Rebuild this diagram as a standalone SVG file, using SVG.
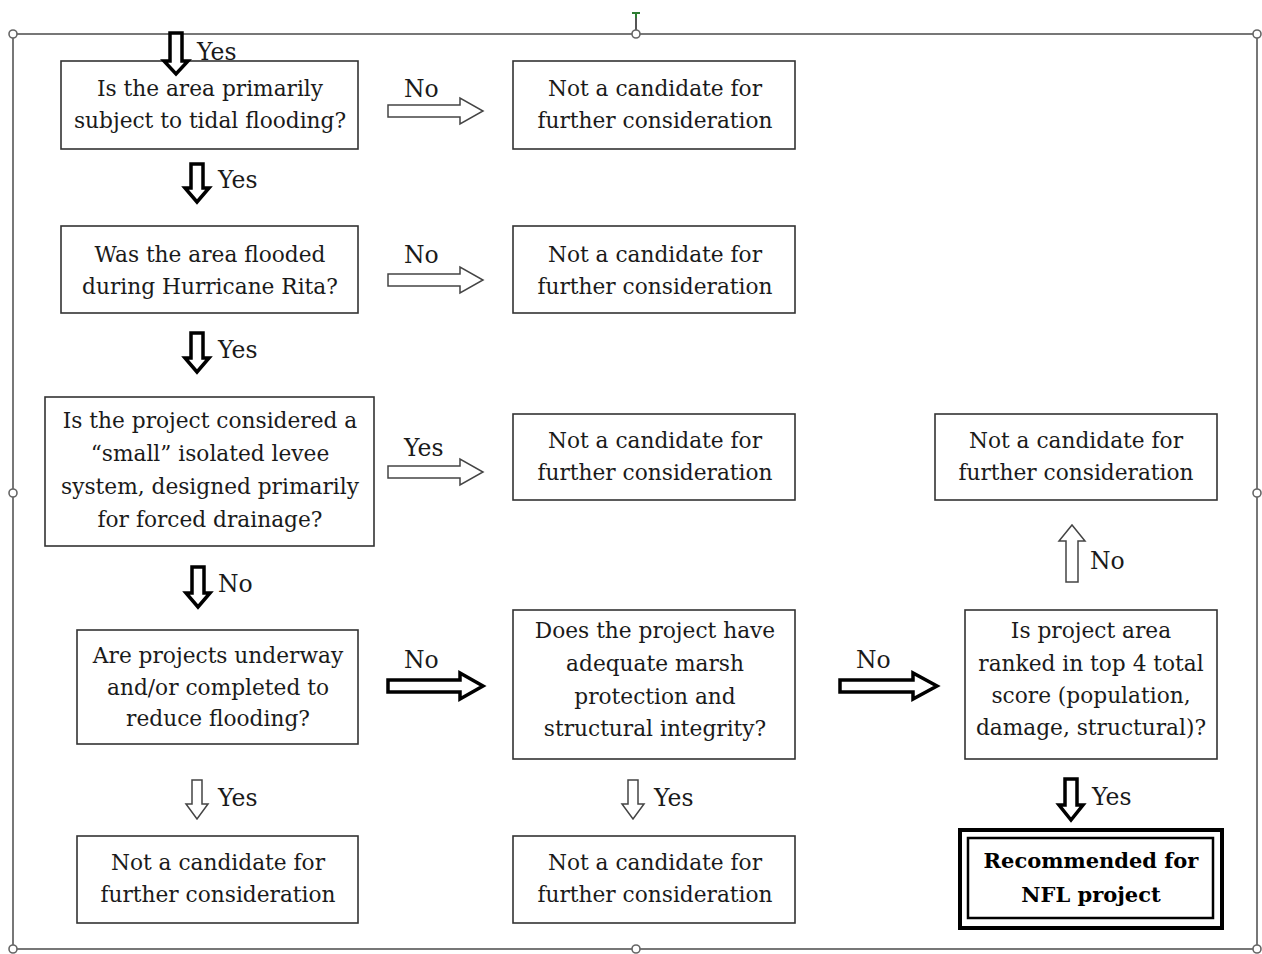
<svg xmlns="http://www.w3.org/2000/svg" width="1262" height="954" viewBox="0 0 1262 954">
<style>
.bx{fill:#fff;stroke:#333;stroke-width:1.6}
.t{font-family:"DejaVu Serif",serif;font-size:21.7px;fill:#1a1a1a;text-anchor:middle}
.l{font-family:"DejaVu Serif",serif;font-size:23.5px;fill:#1a1a1a}
.b{font-weight:bold;fill:#000;font-size:21px}
.thick{fill:#fff;stroke:#000;stroke-width:3.5}
.thin{fill:#fff;stroke:#444;stroke-width:1.5}
.fr{fill:none;stroke:#777;stroke-width:2}
.h{fill:#fff;stroke:#666;stroke-width:1.6}
</style>
<rect width="1262" height="954" fill="#fff"/>
<g id="frame">
<rect class="fr" x="13" y="34" width="1244" height="915"/>
<line x1="636" y1="14" x2="636" y2="30" stroke="#555" stroke-width="2"/>
<line x1="632" y1="13" x2="640" y2="13" stroke="#2e7d32" stroke-width="2"/>
<line x1="636" y1="12" x2="636" y2="18" stroke="#2e7d32" stroke-width="2"/>
<circle class="h" cx="13" cy="34" r="4"/>
<circle class="h" cx="636" cy="34" r="4"/>
<circle class="h" cx="1257" cy="34" r="4"/>
<circle class="h" cx="13" cy="493" r="4"/>
<circle class="h" cx="1257" cy="493" r="4"/>
<circle class="h" cx="13" cy="949" r="4"/>
<circle class="h" cx="636" cy="949" r="4"/>
<circle class="h" cx="1257" cy="949" r="4"/>
</g>
<g id="q1">
<rect class="bx" x="61" y="61" width="297" height="88"/>
<text class="t" x="210" y="96">Is the area primarily</text>
<text class="t" x="210" y="128">subject to tidal flooding?</text>
</g>
<g id="n1">
<rect class="bx" x="513" y="61" width="282" height="88"/>
<text class="t" x="655" y="96">Not a candidate for</text>
<text class="t" x="655" y="128">further consideration</text>
</g>
<g id="q2">
<rect class="bx" x="61" y="226" width="297" height="87"/>
<text class="t" x="210" y="262">Was the area flooded</text>
<text class="t" x="210" y="294">during Hurricane Rita?</text>
</g>
<g id="n2">
<rect class="bx" x="513" y="226" width="282" height="87"/>
<text class="t" x="655" y="262">Not a candidate for</text>
<text class="t" x="655" y="294">further consideration</text>
</g>
<g id="q3">
<rect class="bx" x="45" y="397" width="329" height="149"/>
<text class="t" x="210" y="428">Is the project considered a</text>
<text class="t" x="210" y="461">“small” isolated levee</text>
<text class="t" x="210" y="494">system, designed primarily</text>
<text class="t" x="210" y="527">for forced drainage?</text>
</g>
<g id="n3">
<rect class="bx" x="513" y="414" width="282" height="86"/>
<text class="t" x="655" y="448">Not a candidate for</text>
<text class="t" x="655" y="480">further consideration</text>
</g>
<g id="n4">
<rect class="bx" x="935" y="414" width="282" height="86"/>
<text class="t" x="1076" y="448">Not a candidate for</text>
<text class="t" x="1076" y="480">further consideration</text>
</g>
<g id="q4">
<rect class="bx" x="77" y="630" width="281" height="114"/>
<text class="t" x="218" y="663">Are projects underway</text>
<text class="t" x="218" y="695">and/or completed to</text>
<text class="t" x="218" y="726">reduce flooding?</text>
</g>
<g id="q5">
<rect class="bx" x="513" y="610" width="282" height="149"/>
<text class="t" x="655" y="638">Does the project have</text>
<text class="t" x="655" y="671">adequate marsh</text>
<text class="t" x="655" y="704">protection and</text>
<text class="t" x="655" y="736">structural integrity?</text>
</g>
<g id="q6">
<rect class="bx" x="965" y="610" width="252" height="149"/>
<text class="t" x="1091" y="638">Is project area</text>
<text class="t" x="1091" y="671">ranked in top 4 total</text>
<text class="t" x="1091" y="703">score (population,</text>
<text class="t" x="1091" y="735">damage, structural)?</text>
</g>
<g id="n5">
<rect class="bx" x="77" y="836" width="281" height="87"/>
<text class="t" x="218" y="870">Not a candidate for</text>
<text class="t" x="218" y="902">further consideration</text>
</g>
<g id="n6">
<rect class="bx" x="513" y="836" width="282" height="87"/>
<text class="t" x="655" y="870">Not a candidate for</text>
<text class="t" x="655" y="902">further consideration</text>
</g>
<g id="rec">
<rect x="960" y="830" width="262" height="98" fill="#fff" stroke="#000" stroke-width="4"/>
<rect x="968" y="838" width="245" height="80" fill="none" stroke="#000" stroke-width="2.5"/>
<text class="t b" x="1091" y="868">Recommended for</text>
<text class="t b" x="1091" y="902">NFL project</text>
</g>
<g id="connectors">
<path class="thick" d="M170,33 L182,33 L182,61 L188,61 L176,74 L164,61 L170,61 Z"/>
<text class="l" x="197" y="60">Yes</text>
<path class="thin" d="M388,105 L460,105 L460,98 L483,111 L460,124 L460,117 L388,117 Z"/>
<text class="l" x="404" y="97">No</text>
<path class="thick" d="M191,164 L203,164 L203,188 L209,188 L197,202 L185,188 L191,188 Z"/>
<text class="l" x="218" y="188">Yes</text>
<path class="thin" d="M388,274 L460,274 L460,267 L483,280 L460,293 L460,286 L388,286 Z"/>
<text class="l" x="404" y="263">No</text>
<path class="thick" d="M191,333 L203,333 L203,358 L209,358 L197,372 L185,358 L191,358 Z"/>
<text class="l" x="218" y="358">Yes</text>
<path class="thin" d="M388,466 L460,466 L460,459 L483,472 L460,485 L460,478 L388,478 Z"/>
<text class="l" x="404" y="456">Yes</text>
<path class="thick" d="M192,567 L204,567 L204,593 L210,593 L198,607 L186,593 L192,593 Z"/>
<text class="l" x="218" y="592">No</text>
<path class="thick" d="M388,680 L460,680 L460,673 L483,686 L460,699 L460,692 L388,692 Z"/>
<text class="l" x="404" y="668">No</text>
<path class="thick" d="M840,680 L913,680 L913,673 L937,686 L913,699 L913,692 L840,692 Z"/>
<text class="l" x="856" y="668">No</text>
<path class="thin" d="M1066,582 L1078,582 L1078,541 L1085,541 L1072,525 L1059,541 L1066,541 Z"/>
<text class="l" x="1090" y="569">No</text>
<path class="thin" d="M192,780 L202,780 L202,804 L208,804 L197,819 L186,804 L192,804 Z"/>
<text class="l" x="218" y="806">Yes</text>
<path class="thin" d="M628,780 L638,780 L638,804 L644,804 L633,819 L622,804 L628,804 Z"/>
<text class="l" x="654" y="806">Yes</text>
<path class="thick" d="M1065,779 L1077,779 L1077,805 L1083,805 L1071,820 L1059,805 L1065,805 Z"/>
<text class="l" x="1092" y="805">Yes</text>
</g>
</svg>
